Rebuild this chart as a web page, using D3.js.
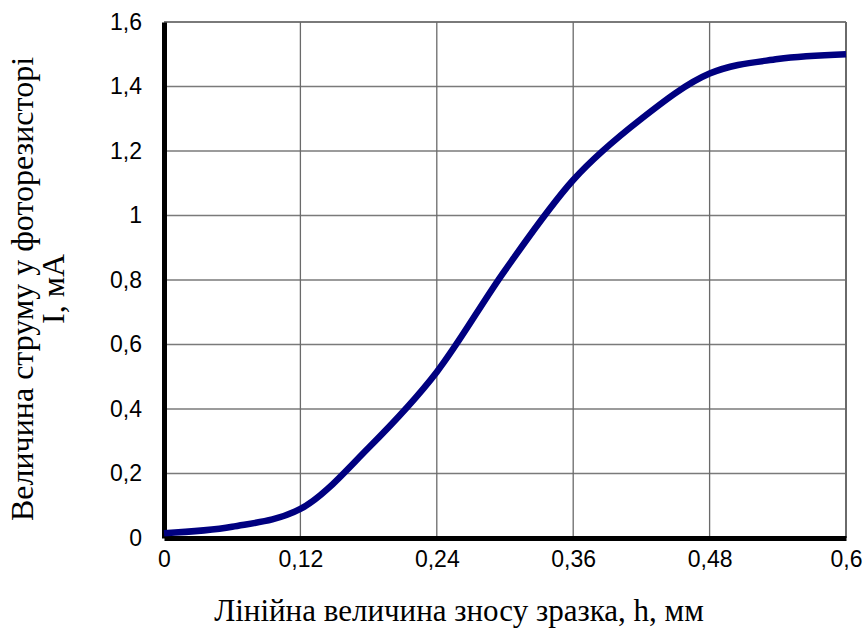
<!DOCTYPE html>
<html lang="uk">
  <head>
    <meta charset="UTF-8" />
    <title>Струм фоторезистора</title>
    <script src="https://cdn.jsdelivr.net/npm/d3@7/dist/d3.min.js"></script>
    <style>
      body { margin: 0; background: #fff; }
    </style>
  </head>
  <body>
    <svg width="867" height="635"></svg>
  </body>

  <script>
    // дані
    var hValues = [0, 0.06, 0.12, 0.18, 0.24, 0.3, 0.36, 0.42, 0.48, 0.54, 0.6];
    var iValues = [0.015, 0.035, 0.09, 0.28, 0.515, 0.83, 1.11, 1.3, 1.44, 1.485, 1.5];
    var xTicks = [0, 0.12, 0.24, 0.36, 0.48, 0.6];
    var yTicks = [0, 0.2, 0.4, 0.6, 0.8, 1, 1.2, 1.4, 1.6];

    // межі області побудови (не "top" — це window.top)
    var pLeft = 164, pRight = 846, pTop = 22, pBottom = 538;

    var svg = d3.select('svg');

    var x = d3.scaleLinear().domain([0, 0.6]).range([pLeft, pRight]);
    var y = d3.scaleLinear().domain([0, 1.6]).range([pBottom, pTop]);

    var fmt = function (d) {
      return String(d).replace('.', ',');
    };

    // сітка
    svg.append('g')
      .selectAll('line')
      .data(yTicks.slice(1))
      .enter()
      .append('line')
      .attr('x1', pLeft).attr('x2', pRight)
      .attr('y1', function (d) { return y(d); })
      .attr('y2', function (d) { return y(d); })
      .attr('stroke', '#7a7a7a')
      .attr('stroke-width', function (d) { return d === 1.6 ? 2 : 1.3; });

    svg.append('g')
      .selectAll('line')
      .data(xTicks.slice(1))
      .enter()
      .append('line')
      .attr('y1', pTop).attr('y2', pBottom)
      .attr('x1', function (d) { return x(d); })
      .attr('x2', function (d) { return x(d); })
      .attr('stroke', '#6a6a6a')
      .attr('stroke-width', function (d) { return d === 0.6 ? 2 : 1.3; });

    // осі
    var axisX = d3.axisBottom(x).tickValues(xTicks).tickSize(0).tickPadding(13).tickFormat(fmt);
    var axisY = d3.axisLeft(y).tickValues(yTicks).tickSize(0).tickPadding(22).tickFormat(fmt);

    var gx = svg.append('g').attr('transform', 'translate(0,' + pBottom + ')').call(axisX);
    var gy = svg.append('g').attr('transform', 'translate(' + pLeft + ',0)').call(axisY);

    [gx, gy].forEach(function (g) {
      g.select('.domain').attr('stroke', '#000').attr('stroke-width', 5);
      g.selectAll('text')
        .attr('fill', '#000')
        .style('font-family', 'Liberation Sans, Arial, sans-serif')
        .style('font-size', '23px');
    });

    // крива
    var line = d3.line()
      .x(function (d, i) { return x(hValues[i]); })
      .y(function (d) { return y(d); })
      .curve(d3.curveMonotoneX);

    svg.append('path')
      .datum(iValues)
      .attr('d', line)
      .attr('fill', 'none')
      .attr('stroke', '#000080')
      .attr('stroke-width', 6.5);

    // підписи осей
    svg.append('text')
      .attr('x', 459)
      .attr('y', 621)
      .attr('text-anchor', 'middle')
      .style('font-family', 'Liberation Serif, Times New Roman, serif')
      .style('font-size', '31px')
      .text('Лінійна величина зносу зразка, h, мм');

    var yl = svg.append('text')
      .attr('transform', 'translate(0,289) rotate(-90)')
      .attr('text-anchor', 'middle')
      .style('font-family', 'Liberation Serif, Times New Roman, serif')
      .style('font-size', '32px');
    yl.append('tspan').attr('x', 0).attr('y', 33).text('Величина струму у фоторезисторі');
    yl.append('tspan').attr('x', 0).attr('y', 64).text('I, мА');
  </script>
</html>
